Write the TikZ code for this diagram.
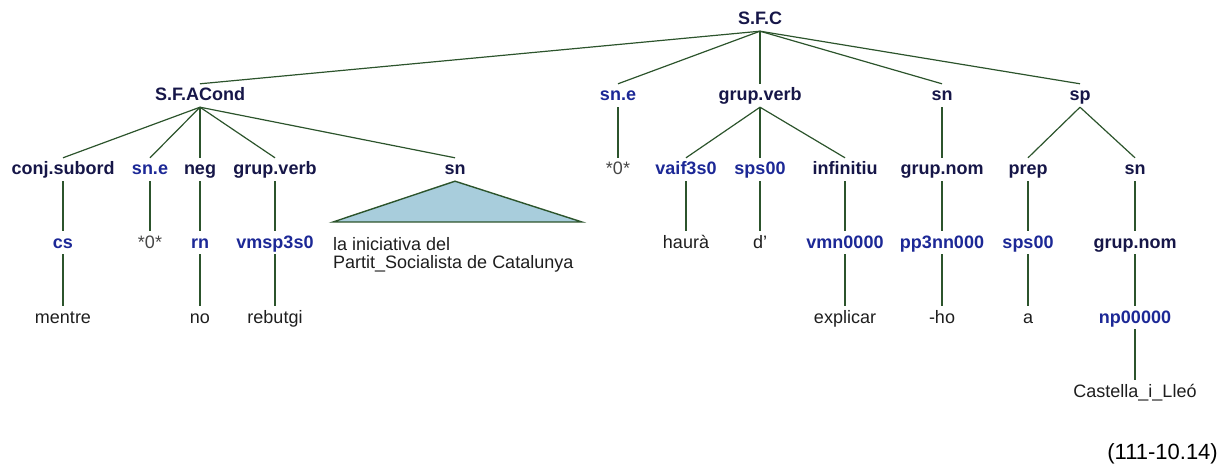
\documentclass[tikz,border=0pt]{standalone}
\usepackage{fontspec}
\setmainfont{Liberation Sans}
\definecolor{navy}{RGB}{22,22,72}
\definecolor{tagblue}{RGB}{28,40,150}
\definecolor{wordc}{RGB}{30,30,30}
\definecolor{grayc}{RGB}{70,70,70}
\definecolor{edgec}{RGB}{44,84,44}
\definecolor{trifill}{RGB}{168,205,220}
\begin{document}
\begin{tikzpicture}[x=1pt,y=-1pt,
  lab/.style={anchor=base, inner xsep=0pt, inner ysep=4pt, text height=13pt, text depth=2pt, font=\fontsize{18}{21}\selectfont\bfseries},
  cat/.style={lab, text=navy},
  tag/.style={lab, text=tagblue},
  word/.style={lab, font=\fontsize{18}{21}\selectfont, text=wordc},
  empty/.style={word, text=grayc},
  edge/.style={draw=edgec, line width=1.2pt},
  tri/.style={draw=edgec, fill=trifill, line width=1.4pt, line join=miter}]
\useasboundingbox (0,0) rectangle (1221,465);

% level 0
\node[cat] (root) at (760,25) {S.F.C};
% level 1
\node[cat] (sfa) at (200,101) {S.F.ACond};
\node[tag] (sne1) at (618,101) {sn.e};
\node[cat] (gv1) at (760,101) {grup.verb};
\node[cat] (sn1) at (942,101) {sn};
\node[cat] (sp1) at (1080,101) {sp};
% level 2
\node[cat] (conj) at (63,175) {conj.subord};
\node[tag] (sne2) at (150,175) {sn.e};
\node[cat] (neg) at (200,175) {neg};
\node[cat] (gv2) at (275,175) {grup.verb};
\node[cat] (sn2) at (455,175) {sn};
\node[empty] (z1) at (618,175) {*0*};
\node[tag] (vaif) at (686,175) {vaif3s0};
\node[tag] (sps1) at (760,175) {sps00};
\node[cat] (inf) at (845,175) {infinitiu};
\node[cat] (gn1) at (942,175) {grup.nom};
\node[cat] (prep) at (1028,175) {prep};
\node[cat] (sn3) at (1135,175) {sn};
% level 3
\node[tag] (cs) at (63,248) {cs};
\node[empty] (z2) at (150,248) {*0*};
\node[tag] (rn) at (200,248) {rn};
\node[tag] (vmsp) at (275,248) {vmsp3s0};
\node[word] (haura) at (686,248) {haurà};
\node[word] (d) at (760,248) {d’};
\node[tag] (vmn) at (845,248) {vmn0000};
\node[tag] (pp) at (942,248) {pp3nn000};
\node[tag] (sps2) at (1028,248) {sps00};
\node[cat] (gn2) at (1135,248) {grup.nom};
% level 4
\node[word] (mentre) at (63,323) {mentre};
\node[word] (no) at (200,323) {no};
\node[word] (rebutgi) at (275,323) {rebutgi};
\node[word] (explicar) at (845,323) {explicar};
\node[word] (ho) at (942,323) {-ho};
\node[word] (a) at (1028,323) {a};
\node[tag] (np) at (1135,323) {np00000};
% level 5
\node[word] (cil) at (1135,397) {Castella\_i\_Lleó};

% triangle with phrase
\coordinate (tl) at (333,222);
\coordinate (tr) at (582,222);
\filldraw[tri] (sn2.south) -- (tr) -- (tl) -- cycle;
\node[anchor=north west, inner sep=0pt, align=left, text=wordc, font=\fontsize{18}{18}\selectfont] (phrase) at (333,237) {la iniciativa del\\Partit\_Socialista de Catalunya};

% caption
\node[anchor=base east, inner sep=0pt, font=\fontsize{22}{26}\selectfont] (caption) at (1218,459) {(111-10.14)};

% edges
\foreach \c in {sfa,sne1,gv1,sn1,sp1} \draw[edge] (root.south) -- (\c.north);
\foreach \c in {conj,sne2,neg,gv2,sn2} \draw[edge] (sfa.south) -- (\c.north);
\draw[edge] (sne1.south) -- (z1.north);
\foreach \c in {vaif,sps1,inf} \draw[edge] (gv1.south) -- (\c.north);
\draw[edge] (sn1.south) -- (gn1.north);
\foreach \c in {prep,sn3} \draw[edge] (sp1.south) -- (\c.north);
\draw[edge] (conj.south) -- (cs.north);
\draw[edge] (sne2.south) -- (z2.north);
\draw[edge] (neg.south) -- (rn.north);
\draw[edge] (gv2.south) -- (vmsp.north);
\draw[edge] (vaif.south) -- (haura.north);
\draw[edge] (sps1.south) -- (d.north);
\draw[edge] (inf.south) -- (vmn.north);
\draw[edge] (gn1.south) -- (pp.north);
\draw[edge] (prep.south) -- (sps2.north);
\draw[edge] (sn3.south) -- (gn2.north);
\draw[edge] (cs.south) -- (mentre.north);
\draw[edge] (rn.south) -- (no.north);
\draw[edge] (vmsp.south) -- (rebutgi.north);
\draw[edge] (vmn.south) -- (explicar.north);
\draw[edge] (pp.south) -- (ho.north);
\draw[edge] (sps2.south) -- (a.north);
\draw[edge] (gn2.south) -- (np.north);
\draw[edge] (np.south) -- (cil.north);
\end{tikzpicture}
\end{document}
